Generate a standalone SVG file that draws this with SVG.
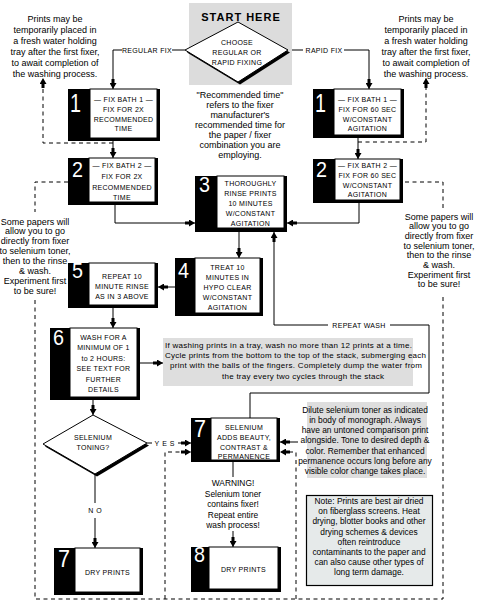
<svg xmlns="http://www.w3.org/2000/svg" width="480" height="603" viewBox="0 0 480 603">
<defs>
<style>
.bx{font-family:"Liberation Sans",Arial,sans-serif;font-size:7px;letter-spacing:.3px;text-anchor:middle;fill:#000}
.num{font-family:"Liberation Sans",Arial,sans-serif;font-size:22px;fill:#fff}
.an{font-family:"Liberation Sans",Arial,sans-serif;font-size:9px;text-anchor:middle;fill:#000}
.sm{font-family:"Liberation Sans",Arial,sans-serif;font-size:8.4px;text-anchor:middle;fill:#000}
.gp{font-family:"Liberation Sans",Arial,sans-serif;font-size:8px;fill:#000}
.sh{fill:#000}
.wb{fill:#fff;stroke:#000;stroke-width:1}
.ln{fill:none;stroke:#000;stroke-width:1}
.ar{marker-end:url(#ah)}
.ds{fill:none;stroke:#000;stroke-width:1;stroke-dasharray:4 3.5}
.gray{fill:#dedede}
</style>
<marker id="ah" viewBox="0 0 10 7" refX="10" refY="3.5" markerWidth="10" markerHeight="7" markerUnits="userSpaceOnUse" orient="auto">
<path d="M0,2 H4 V0 L10,3.5 L4,7 V5 H0 Z" fill="#000"/>
</marker>
</defs>
<rect width="480" height="603" fill="#fff"/>

<!-- annotations -->
<g id="note-top-left">
<text class="an" x="55" y="22">Prints may be</text>
<text class="an" x="55" y="33">temporarily placed in</text>
<text class="an" x="55" y="44">a fresh water holding</text>
<text class="an" x="55" y="55">tray after the first fixer,</text>
<text class="an" x="55" y="66">to await completion of</text>
<text class="an" x="55" y="77">the washing process.</text>
</g>
<g id="note-top-right">
<text class="an" x="426" y="22">Prints may be</text>
<text class="an" x="426" y="33">temporarily placed in</text>
<text class="an" x="426" y="44">a fresh water holding</text>
<text class="an" x="426" y="55">tray after the first fixer,</text>
<text class="an" x="426" y="66">to await completion of</text>
<text class="an" x="426" y="77">the washing process.</text>
</g>
<g id="note-recommended">
<text class="an" x="240" y="97.5">"Recommended time"</text>
<text class="an" x="240" y="107.5">refers to the fixer</text>
<text class="an" x="240" y="117.5">manufacturer's</text>
<text class="an" x="240" y="127.5">recommended time for</text>
<text class="an" x="240" y="137.5">the paper / fixer</text>
<text class="an" x="240" y="147.5">combination you are</text>
<text class="an" x="240" y="157.5">employing.</text>
</g>
<g id="note-left-direct">
<text class="an" x="35" y="224.5">Some papers will</text>
<text class="an" x="35" y="234.4">allow you to go</text>
<text class="an" x="35" y="244.3">directly from fixer</text>
<text class="an" x="35" y="254.2">to selenium toner,</text>
<text class="an" x="35" y="264.1">then to the rinse</text>
<text class="an" x="35" y="274">&amp; wash.</text>
<text class="an" x="35" y="283.9">Experiment first</text>
<text class="an" x="35" y="293.8">to be sure!</text>
</g>
<g id="note-right-direct">
<text class="an" x="439" y="219.5">Some papers will</text>
<text class="an" x="439" y="229.2">allow you to go</text>
<text class="an" x="439" y="238.9">directly from fixer</text>
<text class="an" x="439" y="248.6">to selenium toner,</text>
<text class="an" x="439" y="258.3">then to the rinse</text>
<text class="an" x="439" y="268">&amp; wash.</text>
<text class="an" x="439" y="277.7">Experiment first</text>
<text class="an" x="439" y="287.4">to be sure!</text>
</g>
<g id="note-wash">
<rect class="gray" x="163" y="338" width="250" height="48"/>
<text class="gp" x="165" y="347.5" textLength="247" lengthAdjust="spacing">If washing prints in a tray, wash no more than 12 prints at a time.</text>
<text class="gp" x="165" y="357.5" textLength="261" lengthAdjust="spacing">Cycle prints from the bottom to the top of the stack, submerging each</text>
<text class="gp" x="170" y="367.5" textLength="252" lengthAdjust="spacing">print with the balls of the fingers. Completely dump the water from</text>
<text class="gp" x="222" y="379" textLength="162" lengthAdjust="spacing">the tray every two cycles through the stack</text>
</g>
<g id="note-dilute">
<rect class="gray" x="307" y="402" width="120" height="76"/>
<text class="sm" x="365" y="412.5">Dilute selenium toner as indicated</text>
<text class="sm" x="365" y="422.7">in body of monograph. Always</text>
<text class="sm" x="365" y="433">have an untoned comparison print</text>
<text class="sm" x="365" y="443.2">alongside. Tone to desired depth &amp;</text>
<text class="sm" x="365" y="453.5">color. Remember that enhanced</text>
<text class="sm" x="365" y="463.7">permanence occurs long before any</text>
<text class="sm" x="365" y="474">visible color change takes place.</text>
</g>
<g id="note-drying">
<rect x="306.5" y="495.5" width="126" height="90" fill="#e6eaea" stroke="#000" stroke-width="1.2"/>
<text class="sm" x="369" y="504.2">Note: Prints are best air dried</text>
<text class="sm" x="369" y="514.3">on fiberglass screens. Heat</text>
<text class="sm" x="369" y="524.4">drying, blotter books and other</text>
<text class="sm" x="369" y="534.5">drying schemes &amp; devices</text>
<text class="sm" x="369" y="544.6">often reintroduce</text>
<text class="sm" x="369" y="554.7">contaminants to the paper and</text>
<text class="sm" x="369" y="564.8">can also cause other types of</text>
<text class="sm" x="369" y="574.9">long term damage.</text>
</g>
<g id="note-warning">
<text class="sm" x="233" y="486">WARNING!</text>
<text class="sm" x="233" y="496.5">Selenium toner</text>
<text class="sm" x="233" y="507">contains fixer!</text>
<text class="sm" x="233" y="517.5">Repeat entire</text>
<text class="sm" x="233" y="528">wash process!</text>
</g>

<!-- connectors -->
<g id="connectors">
<path class="ln" d="M185,50 H172"/>
<path class="ln ar" d="M122,50 H113 V89"/>
<text class="bx" x="147" y="52.5">REGULAR FIX</text>
<path class="ln" d="M288,50 H303"/>
<path class="ln ar" d="M344,50 H369 V89"/>
<text class="bx" x="324" y="52.5">RAPID FIX</text>
<path class="ln ar" d="M113,141 V158"/>
<path class="ds ar" d="M113,143 H43 V78"/>
<path class="ln ar" d="M358,135 V159"/>
<path class="ds ar" d="M358,142 H426 V78"/>
<path class="ds" d="M68,182 H35 V212"/>
<path class="ds" d="M35,300 V599 H443 V294"/>
<path class="ds" d="M443,208 V182 H403"/>
<path class="ln ar" d="M115,205 V223 H195"/>
<path class="ln ar" d="M359,203 V223 H287"/>
<path class="ln ar" d="M239,232 V258"/>
<path class="ln ar" d="M175,287 H158"/>
<path class="ln ar" d="M113,308 V328"/>
<path class="ln ar" d="M140,363 H163"/>
<path class="ln ar" d="M93,400 V415"/>
<path class="ln" d="M147,443 H152"/>
<path class="ln ar" d="M178,443 H191"/>
<text class="bx" x="166" y="446" style="letter-spacing:3px">YES</text>
<path class="ln" d="M95,474 V503"/>
<path class="ln ar" d="M95,518 V548"/>
<text class="bx" x="96.5" y="513" style="letter-spacing:3px">NO</text>
<path class="ln" d="M250,418 V393 H429 V325 H390"/>
<path class="ln ar" d="M328,325 H274 V232"/>
<text class="bx" x="359" y="327.5">REPEAT WASH</text>
<path class="ln ar" d="M298,442 H280"/>
<path class="ds ar" d="M165,599 V452 H191"/>
<path class="ds ar" d="M296,599 V452 H280"/>
<path class="ln" d="M233,462 V477"/>
<path class="ln ar" d="M233,531 V547"/>
</g>

<!-- nodes -->
<g id="start">
<rect x="189" y="3" width="103" height="82" fill="#dcdcdc"/>
<text x="241" y="21" style="font-family:'Liberation Sans',Arial,sans-serif;font-size:11px;font-weight:bold;letter-spacing:1px;text-anchor:middle">START HERE</text>
<polygon class="sh" points="187,52.5 240,24.5 290,52.5 240,84.5"/>
<polygon class="wb" points="185,50 238,22 288,50 238,82"/>
<text class="bx" x="237" y="45">CHOOSE</text>
<text class="bx" x="237" y="55">REGULAR OR</text>
<text class="bx" x="237" y="65">RAPID FIXING</text>
</g>

<g id="fix1-regular">
<rect class="sh" x="68" y="89" width="92" height="52"/>
<rect class="wb" x="90" y="89" width="67" height="49"/>
<text class="num" x="70" y="112" style="font-size:25px" textLength="11" lengthAdjust="spacingAndGlyphs">1</text>
<text class="bx" x="123.5" y="101.5">— FIX BATH 1 —</text>
<text class="bx" x="123.5" y="111.5">FIX FOR 2X</text>
<text class="bx" x="123.5" y="121.5">RECOMMENDED</text>
<text class="bx" x="123.5" y="131">TIME</text>
</g>
<g id="fix1-rapid">
<rect class="sh" x="313" y="89" width="91" height="49"/>
<rect class="wb" x="334" y="89" width="67" height="46"/>
<text class="num" x="315" y="112" style="font-size:25px" textLength="11" lengthAdjust="spacingAndGlyphs">1</text>
<text class="bx" x="367.5" y="101.5">— FIX BATH 1 —</text>
<text class="bx" x="367.5" y="111.5">FIX FOR 60 SEC</text>
<text class="bx" x="367.5" y="121.5">W/CONSTANT</text>
<text class="bx" x="367.5" y="131">AGITATION</text>
</g>
<g id="fix2-regular">
<rect class="sh" x="68" y="158" width="90" height="47"/>
<rect class="wb" x="89" y="158" width="66" height="44"/>
<text class="num" x="72" y="177" textLength="11" lengthAdjust="spacingAndGlyphs">2</text>
<text class="bx" x="122" y="167.5">— FIX BATH 2 —</text>
<text class="bx" x="122" y="178.5">FIX FOR 2X</text>
<text class="bx" x="122" y="189.5">RECOMMENDED</text>
<text class="bx" x="122" y="199.5">TIME</text>
</g>
<g id="fix2-rapid">
<rect class="sh" x="313" y="159" width="90" height="44"/>
<rect class="wb" x="335" y="159" width="65" height="41"/>
<text class="num" x="316" y="177" textLength="11" lengthAdjust="spacingAndGlyphs">2</text>
<text class="bx" x="367.5" y="167.5">— FIX BATH 2 —</text>
<text class="bx" x="367.5" y="177.5">FIX FOR 60 SEC</text>
<text class="bx" x="367.5" y="187.5">W/CONSTANT</text>
<text class="bx" x="367.5" y="197">AGITATION</text>
</g>
<g id="rinse">
<rect class="sh" x="195" y="176" width="92" height="56"/>
<rect class="wb" x="217" y="176" width="67" height="52"/>
<text class="num" x="199" y="192" textLength="11" lengthAdjust="spacingAndGlyphs">3</text>
<text class="bx" x="250.5" y="185.5">THOROUGHLY</text>
<text class="bx" x="250.5" y="195.5">RINSE PRINTS</text>
<text class="bx" x="250.5" y="205.5">10 MINUTES</text>
<text class="bx" x="250.5" y="215.5">W/CONSTANT</text>
<text class="bx" x="250.5" y="225.5">AGITATION</text>
</g>
<g id="hypo">
<rect class="sh" x="175" y="258" width="88" height="58"/>
<rect class="wb" x="195" y="258" width="65" height="55"/>
<text class="num" x="178" y="278" textLength="11" lengthAdjust="spacingAndGlyphs">4</text>
<text class="bx" x="227.5" y="269.5">TREAT 10</text>
<text class="bx" x="227.5" y="279.5">MINUTES IN</text>
<text class="bx" x="227.5" y="289.5">HYPO CLEAR</text>
<text class="bx" x="227.5" y="299.5">W/CONSTANT</text>
<text class="bx" x="227.5" y="309.5">AGITATION</text>
</g>
<g id="repeat-rinse">
<rect class="sh" x="68" y="263" width="90" height="45"/>
<rect class="wb" x="89" y="263" width="66" height="42"/>
<text class="num" x="72" y="278" textLength="11" lengthAdjust="spacingAndGlyphs">5</text>
<text class="bx" x="122" y="278.5">REPEAT 10</text>
<text class="bx" x="122" y="288.5">MINUTE RINSE</text>
<text class="bx" x="122" y="298.5">AS IN 3 ABOVE</text>
</g>
<g id="wash">
<rect class="sh" x="50" y="328" width="90" height="72"/>
<rect class="wb" x="70" y="328" width="67" height="69"/>
<text class="num" x="53" y="345" textLength="11" lengthAdjust="spacingAndGlyphs">6</text>
<text class="bx" x="103.5" y="339.5">WASH FOR A</text>
<text class="bx" x="103.5" y="349.5">MINIMUM OF 1</text>
<text class="bx" x="103.5" y="360.5">to 2 HOURS:</text>
<text class="bx" x="103.5" y="370.5">SEE TEXT FOR</text>
<text class="bx" x="103.5" y="381.5">FURTHER</text>
<text class="bx" x="103.5" y="391.5">DETAILS</text>
</g>
<g id="toning-decision">
<polygon class="sh" points="45,446.5 95,417.5 149,445.5 97,476.5"/>
<polygon class="wb" points="43,444 93,415 147,443 95,474"/>
<text class="bx" x="93" y="439.5">SELENIUM</text>
<text class="bx" x="93" y="450">TONING?</text>
</g>
<g id="selenium">
<rect class="sh" x="191" y="418" width="89" height="44"/>
<rect class="wb" x="211" y="418" width="66" height="42"/>
<text class="num" x="194" y="437" style="font-size:24px" textLength="12" lengthAdjust="spacingAndGlyphs">7</text>
<text class="bx" x="244" y="429.5">SELENIUM</text>
<text class="bx" x="244" y="439.5">ADDS BEAUTY,</text>
<text class="bx" x="244" y="449.5">CONTRAST &amp;</text>
<text class="bx" x="244" y="458.5">PERMANENCE</text>
</g>
<g id="dry-7">
<rect class="sh" x="54" y="548" width="89" height="47"/>
<rect class="wb" x="75" y="548" width="65" height="44"/>
<text class="num" x="58" y="567" style="font-size:24px" textLength="12" lengthAdjust="spacingAndGlyphs">7</text>
<text class="bx" x="107.5" y="574.5">DRY PRINTS</text>
</g>
<g id="dry-8">
<rect class="sh" x="191" y="547" width="90" height="45"/>
<rect class="wb" x="209" y="547" width="69" height="42"/>
<text class="num" x="194" y="562" textLength="11" lengthAdjust="spacingAndGlyphs">8</text>
<text class="bx" x="243.5" y="571.5">DRY PRINTS</text>
</g>
</svg>
